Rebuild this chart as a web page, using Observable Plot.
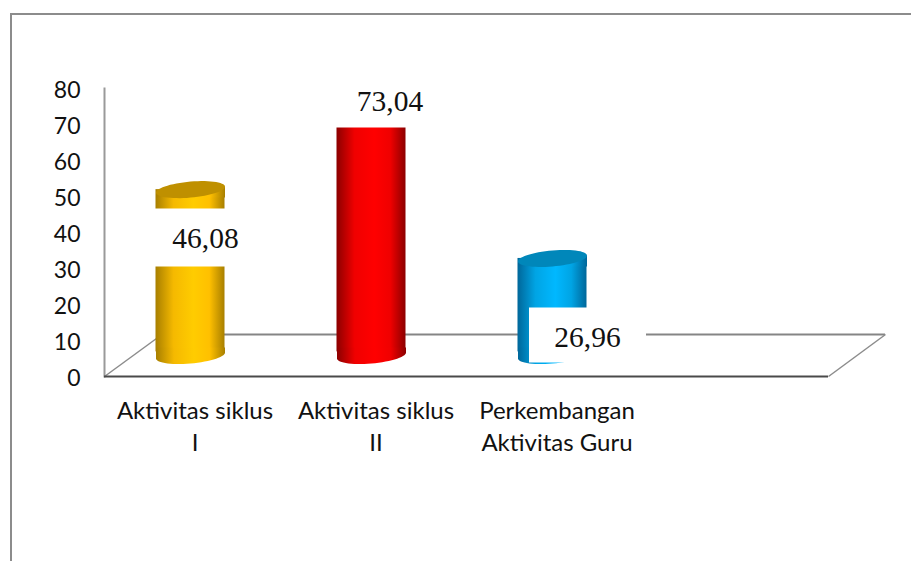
<!doctype html>
<html><head><meta charset="utf-8">
<script src="https://cdn.jsdelivr.net/npm/d3@7"></script>
<script src="https://cdn.jsdelivr.net/npm/@observablehq/plot@0.6"></script>
<style>
html,body{margin:0;padding:0;background:#fff;overflow:hidden}
#wrap{position:relative;width:911px;height:561px}
#edge{position:absolute;left:10px;top:13px;right:0;bottom:0;border-top:2px solid #8c8c8c;border-left:2px solid #8c8c8c}
svg{display:block;position:absolute;left:0;top:0;background:transparent!important}
</style></head><body>
<div id="wrap"><div id="edge"></div></div>
<script>
const categories = ["Aktivitas siklus\nI", "Aktivitas siklus\nII", "Perkembangan\nAktivitas Guru", " "];
const values = [46.08, 73.04, 26.96];
const valueLabels = ["46,08", "73,04", "26,96"];
const yTicks = [0, 10, 20, 30, 40, 50, 60, 70, 80];
const capColors = ["#bf9000", "#c00000", "#0087ba"];
const sideStops = [
  ["#a87f00", "#f5b900", "#ffcc00", "#ffc000", "#a87f00"],
  ["#8c0000", "#f00000", "#ff0000", "#f00000", "#8c0000"],
  ["#00679a", "#00a4e4", "#00b8ff", "#00a4e4", "#00679a"]
];

const rows = values.map((v, i) => ({cat: categories[i], v, label: valueLabels[i]}));

// tilted ellipse used for cylinder caps
const tilted = {draw(c) {
  for (let k = 0; k <= 60; k++) {
    const t = k / 60 * 2 * Math.PI, x = 34.5 * Math.cos(t), y = 8 * Math.sin(t) - 0.085 * x;
    k ? c.lineTo(x, y) : c.moveTo(x, y);
  }
  c.closePath();
}};
// cylinder foot: flat top that meets the body, lower half of the tilted ellipse
const foot = {draw(c) {
  c.moveTo(34.5, -8);
  for (let k = 0; k <= 30; k++) {
    const t = k / 30 * Math.PI, x = 34.5 * Math.cos(t), y = 8 * Math.sin(t) - 0.085 * x;
    c.lineTo(x, y);
  }
  c.lineTo(-34.5, -8);
  c.closePath();
}};
// cylinder neck: follows the tilt of the cap so the sides reach its tips
const neck = {draw(c) {
  c.moveTo(-34.5, 2.93); c.lineTo(34.5, -2.93); c.lineTo(34.5, 8); c.lineTo(-34.5, 8); c.closePath();
}};
const box = (x, y, w, h) => ({draw(c) { c.rect(x, y, w, h); }});
const diagonal = {draw(c) { c.moveTo(0, 0); c.lineTo(57, -42); }};
const diagonalLeft = {draw(c) { c.moveTo(0, 0); c.lineTo(52, -38); }};

const defs = () => {
  const s = d3.create("svg:defs");
  sideStops.forEach((st, i) => {
    const g = s.append("linearGradient").attr("id", "side" + i);
    [0, 0.26, 0.55, 0.78, 1].forEach((o, j) => g.append("stop").attr("offset", o).attr("stop-color", st[j]));
  });
  return s.node();
};

const barDx = -4.5, baseDy = -21;
const bars = rows.flatMap((r, i) => [
  Plot.barY([r], {x: "cat", y1: () => 1, y2: "v", dx: barDx, dy: baseDy, insetLeft: 56, insetRight: 56, fill: `url(#side${i})`}),
  Plot.dot([r], {x: "cat", y: () => 0, dx: barDx, dy: baseDy, symbol: foot, fill: `url(#side${i})`, stroke: "none"}),
  Plot.dot([r], {x: "cat", y: "v", dx: barDx, dy: baseDy, symbol: neck, fill: `url(#side${i})`, stroke: "none"}),
  Plot.dot([r], {x: "cat", y: "v", dx: barDx, dy: baseDy, symbol: tilted, fill: capColors[i], stroke: "none"})
]);

const label = (i, dx, dy, sym) => [
  Plot.dot([rows[i]], {x: "cat", y: "v", dx, dy, symbol: sym, fill: "white", stroke: "none"}),
  Plot.text([rows[i]], {x: "cat", y: "v", text: "label", dx, dy, fontFamily: "Liberation Serif", fontSize: 29.5, fill: "#111"})
];

const chart = Plot.plot({
  width: 911, height: 561,
  marginLeft: 104, marginRight: 83, marginTop: 88, marginBottom: 185,
  style: {background: "transparent"},
  x: {domain: categories, padding: 0, axis: null},
  y: {domain: [0, 80], axis: null},
  marks: [
    defs,
    Plot.ruleY([11.67], {dx: 57, stroke: "#858585", strokeWidth: 2}),
    Plot.dot([0], {frameAnchor: "bottom-left", symbol: diagonalLeft, fill: "none", stroke: "#8c8c8c", strokeWidth: 1.5}),
    Plot.dot([0], {frameAnchor: "bottom-right", symbol: diagonal, fill: "none", stroke: "#8c8c8c", strokeWidth: 1.5}),
    Plot.frame({anchor: "left", stroke: "#9a9a9a", strokeWidth: 2}),
    Plot.ruleY([0], {stroke: "#4a4a4a", strokeWidth: 2}),
    ...bars,
    ...label(0, 10.5, 28, box(-52, -30, 100, 58)),
    ...label(1, 14, -12, box(-60, -28, 120, 54)),
    ...label(2, 30.5, 58, box(-58.5, -30, 117, 55)),
    Plot.axisY({ticks: yTicks, tickSize: 0, tickPadding: 24, dy: 2, fontFamily: "Lato", fontSize: 23, fill: "#111", label: null}),
    Plot.axisX({tickSize: 0, tickPadding: 20, fontFamily: "Lato", fontSize: 24, lineHeight: 1.33, fill: "#111", label: null})
  ]
});
document.getElementById("wrap").appendChild(chart);
</script>
</body></html>
